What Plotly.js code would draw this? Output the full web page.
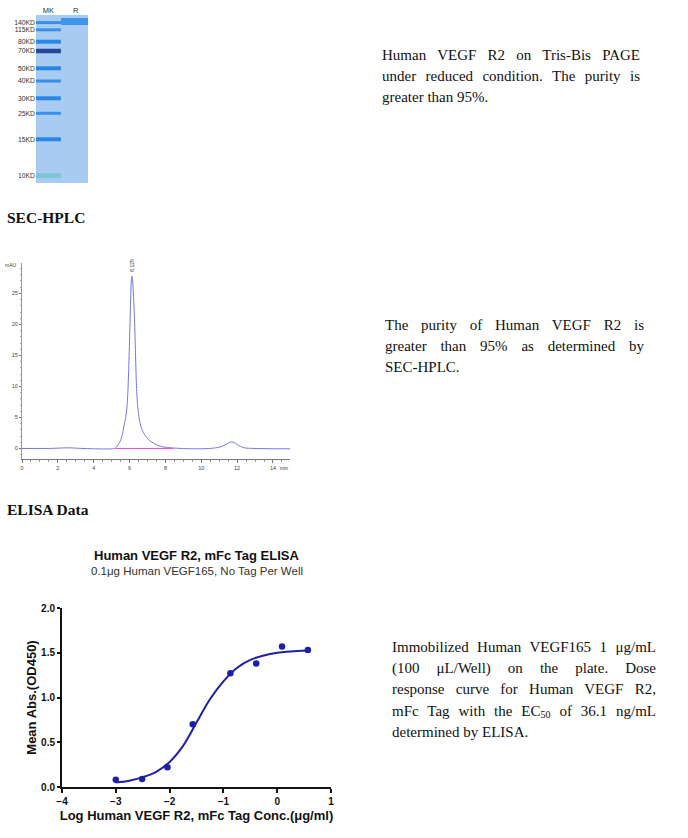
<!DOCTYPE html>
<html>
<head>
<meta charset="utf-8">
<script src="https://cdn.plot.ly/plotly-3.0.1.min.js"></script>
<style>
  body { margin: 0; background: #fff; }
  #page { position: relative; width: 688px; height: 838px; background: #fff; overflow: hidden; }
  .plot { position: absolute; }
  .para { position: absolute; font-family: "Liberation Serif", "Times New Roman", serif; font-size: 15px; line-height: 21.2px; color: #111; }
  .para .ln { display: block; text-align: justify; text-align-last: justify; white-space: nowrap; }
  .para .ln.last { text-align-last: left; }
  .heading { position: absolute; left: 7px; font-family: "Liberation Serif", "Times New Roman", serif; font-weight: bold; font-size: 15.5px; line-height: 20px; color: #111; }
  sub { font-size: 10px; vertical-align: -2px; line-height: 0; }
</style>
</head>
<body>
<div id="page">
  <div id="gel" class="plot" style="left:0;top:0;width:100px;height:190px"></div>
  <div class="para" style="left:382px;top:45px;width:258px">
    <span class="ln">Human VEGF R2 on Tris-Bis PAGE</span>
    <span class="ln">under reduced condition. The purity is</span>
    <span class="ln last">greater than 95%.</span>
  </div>

  <div class="heading" style="top:208px">SEC-HPLC</div>
  <div id="hplc" class="plot" style="left:0;top:255px;width:300px;height:215px"></div>
  <div class="para" style="left:385px;top:315px;width:259px">
    <span class="ln">The purity of Human VEGF R2 is</span>
    <span class="ln">greater than 95% as determined by</span>
    <span class="ln last">SEC-HPLC.</span>
  </div>

  <div class="heading" style="top:500px">ELISA Data</div>
  <div id="elisa" class="plot" style="left:0;top:540px;width:360px;height:298px"></div>
  <div class="para" style="left:392px;top:637px;width:264px">
    <span class="ln">Immobilized Human VEGF165 1 μg/mL</span>
    <span class="ln">(100 μL/Well) on the plate. Dose</span>
    <span class="ln">response curve for Human VEGF R2,</span>
    <span class="ln">mFc Tag with the EC<sub>50</sub> of 36.1 ng/mL</span>
    <span class="ln last">determined by ELISA.</span>
  </div>
</div>

<script>
// SDS-PAGE lanes: ladder bands (migration from top of gel) and sample band
const lanes = ["MK", "R"];
const ladderLabels = ["140KD", "115KD", "80KD", "70KD", "50KD", "40KD", "30KD", "25KD", "15KD", "10KD"];
const ladderMigration = [7.6, 14.8, 26.7, 36, 53.3, 66, 83.3, 98.3, 124.3, 160.7];
const sampleMigration = [6.5];

// SEC-HPLC trace (min, mAU)
const hplcTime = [0, 0.5, 1, 1.5, 2, 2.5, 2.8, 3.2, 3.6, 4, 4.5, 5, 5.2, 5.3, 5.4, 5.5, 5.6, 5.7,
  5.75, 5.8, 5.85, 5.9, 5.95, 6.0, 6.05, 6.1, 6.13, 6.17, 6.22, 6.28, 6.33, 6.38, 6.45, 6.55,
  6.65, 6.8, 7.0, 7.2, 7.5, 7.8, 8.2, 8.6, 9, 9.5, 10, 10.5, 10.8, 11.0, 11.2, 11.4, 11.6,
  11.7, 11.85, 12.0, 12.2, 12.4, 12.7, 13, 13.5, 14, 14.5, 14.95];
const hplcSignal = [0, 0, 0, 0, 0.05, 0.1, 0.08, 0.02, -0.02, -0.05, -0.08, -0.06, 0.05, 0.3,
  0.7, 1.3, 2.3, 3.8, 4.5, 5.2, 6.5, 8.8, 12.5, 17.5, 23, 27.2, 27.8, 27.0, 24.5, 20.5, 15.5,
  10.5, 6.8, 4.6, 3.4, 2.4, 1.6, 1.1, 0.6, 0.3, 0.12, 0.05, -0.02, -0.05, -0.05, 0.0, 0.1,
  0.2, 0.4, 0.7, 1.0, 1.05, 0.95, 0.65, 0.3, 0.1, 0.02, 0.0, -0.03, -0.05, -0.05, -0.05];
const baselineTime = [5.2, 8.45];
const baselineSignal = [0, 0];
const peakTime = 6.12;
const peakLabel = "6.129";

// ELISA: measured points and fitted curve
const elisaLogConc = [-3, -2.51, -2.04, -1.57, -0.87, -0.39, 0.09, 0.57];
const elisaOD = [0.08, 0.09, 0.22, 0.70, 1.27, 1.38, 1.57, 1.53];
const fitLogConc = [-3, -2.75, -2.5, -2.25, -2, -1.75, -1.5, -1.25, -1, -0.75, -0.5, -0.25, 0, 0.25, 0.57];
const fitOD = [0.05, 0.07, 0.11, 0.17, 0.28, 0.46, 0.72, 0.98, 1.18, 1.33, 1.42, 1.47, 1.50, 1.515, 1.525];

const cfg = { displayModeBar: false, staticPlot: true };

// ---- gel ----
Plotly.newPlot("gel", [
  {
    x: ladderMigration.map(() => lanes[0]),
    y: ladderMigration,
    mode: "markers",
    type: "scatter",
    marker: {
      symbol: "line-ew",
      size: 18,
      line: {
        width: [3, 3, 4, 4.5, 4, 3, 4, 3, 4, 5],
        color: ["#3b8fe8", "#3b8fe8", "#2e86e4", "#24479a", "#2a84e4", "#3a8ee8", "#2e86e4",
          "#3b8fe8", "#2a86e6", "#7cc5d6"],
      },
    },
  },
  {
    x: sampleMigration.map(() => lanes[1]),
    y: sampleMigration,
    mode: "markers",
    type: "scatter",
    marker: { symbol: "line-ew", size: 21, line: { width: 7, color: "#3d95ef" } },
  },
], {
  width: 100, height: 190,
  margin: { l: 36, r: 12, t: 15, b: 7 },
  paper_bgcolor: "rgba(0,0,0,0)",
  plot_bgcolor: "#a8ccf1",
  showlegend: false,
  font: { family: "Liberation Sans, Arial, sans-serif", color: "#333" },
  xaxis: {
    type: "category", categoryarray: lanes, side: "top", range: [-0.45, 1.45],
    showgrid: false, zeroline: false, ticks: "", tickfont: { size: 7.5 }, ticklabelstandoff: 0,
  },
  yaxis: {
    range: [168, 0], tickvals: ladderMigration, ticktext: ladderLabels,
    showgrid: false, zeroline: false, ticks: "", tickfont: { size: 6.8 }, ticklabelstandoff: 0,
  },
}, cfg);

// ---- SEC-HPLC ----
Plotly.newPlot("hplc", [
  {
    x: hplcTime, y: hplcSignal, type: "scatter", mode: "lines",
    line: { color: "#7474dc", width: 1, shape: "spline", smoothing: 0.6 },
  },
  {
    x: baselineTime, y: baselineSignal, type: "scatter", mode: "lines",
    line: { color: "#e650e0", width: 1 },
  },
], {
  width: 300, height: 215,
  margin: { l: 22, r: 10, t: 8, b: 11 },
  paper_bgcolor: "rgba(0,0,0,0)",
  plot_bgcolor: "rgba(0,0,0,0)",
  showlegend: false,
  font: { family: "Liberation Sans, Arial, sans-serif", color: "#444", size: 5.5 },
  xaxis: {
    range: [0, 14.95], dtick: 2, showgrid: false, zeroline: false,
    showline: true, linecolor: "#777", linewidth: 1,
    ticks: "outside", ticklen: 3, tickcolor: "#777", tickfont: { size: 5.5 },
    minor: { dtick: 0.5, ticks: "outside", ticklen: 2, tickcolor: "#999" },
  },
  yaxis: {
    range: [-1.7, 29.9], dtick: 5, showgrid: false, zeroline: false,
    showline: true, linecolor: "#999", linewidth: 1,
    ticks: "outside", ticklen: 2, tickcolor: "#777", tickfont: { size: 5.5 },
    minor: { dtick: 1, ticks: "outside", ticklen: 1.5, tickcolor: "#aaa" },
  },
  annotations: [
    { text: "mAU", xref: "paper", yref: "y", x: 0, y: 29.6, xanchor: "right", xshift: -3,
      showarrow: false, font: { size: 5 } },
    { text: "min", xref: "paper", yref: "paper", x: 1, y: 0, xanchor: "right", yanchor: "top",
      yshift: -4, showarrow: false, font: { size: 5 } },
    { text: peakLabel, x: peakTime, y: 28.2, xref: "x", yref: "y", textangle: -90,
      yanchor: "bottom", showarrow: false, font: { size: 5, color: "#333" } },
  ],
}, cfg);

// ---- ELISA ----
const elisaBlue = "#1f1fa6";
Plotly.newPlot("elisa", [
  {
    x: fitLogConc, y: fitOD, type: "scatter", mode: "lines",
    line: { color: elisaBlue, width: 2, shape: "spline" },
  },
  {
    x: elisaLogConc, y: elisaOD, type: "scatter", mode: "markers",
    marker: { color: elisaBlue, size: 6.5 },
    cliponaxis: false,
  },
], {
  width: 360, height: 298,
  margin: { l: 62, r: 29, t: 68, b: 51 },
  paper_bgcolor: "rgba(0,0,0,0)",
  plot_bgcolor: "rgba(0,0,0,0)",
  showlegend: false,
  font: { family: "Liberation Sans, Arial, sans-serif", color: "#111" },
  xaxis: {
    range: [-4, 1], dtick: 1, showgrid: false, zeroline: false,
    showline: true, linecolor: "#111", linewidth: 2,
    ticks: "outside", ticklen: 4, tickwidth: 2, tickcolor: "#111",
    tickfont: { size: 10, weight: "bold" },
    title: { text: "Log Human VEGF R2, mFc Tag Conc.(μg/ml)", standoff: 5,
      font: { size: 13, weight: "bold" } },
  },
  yaxis: {
    range: [0, 2], dtick: 0.5, tickformat: ".1f", showgrid: false, zeroline: false,
    showline: true, linecolor: "#111", linewidth: 2,
    ticks: "outside", ticklen: 3, tickwidth: 2, tickcolor: "#111",
    tickfont: { size: 10, weight: "bold" },
    title: { text: "Mean Abs.(OD450)", standoff: 2, font: { size: 13, weight: "bold" } },
  },
  annotations: [
    { text: "<b>Human VEGF R2, mFc Tag ELISA</b>", xref: "paper", yref: "paper", x: 0.5, y: 1.296,
      yanchor: "middle", showarrow: false, font: { size: 13, color: "#111" } },
    { text: "0.1μg Human VEGF165, No Tag Per Well", xref: "paper", yref: "paper", x: 0.5, y: 1.207,
      yanchor: "middle", showarrow: false, font: { size: 11.5, color: "#333" } },
  ],
}, cfg);
</script>
</body>
</html>
